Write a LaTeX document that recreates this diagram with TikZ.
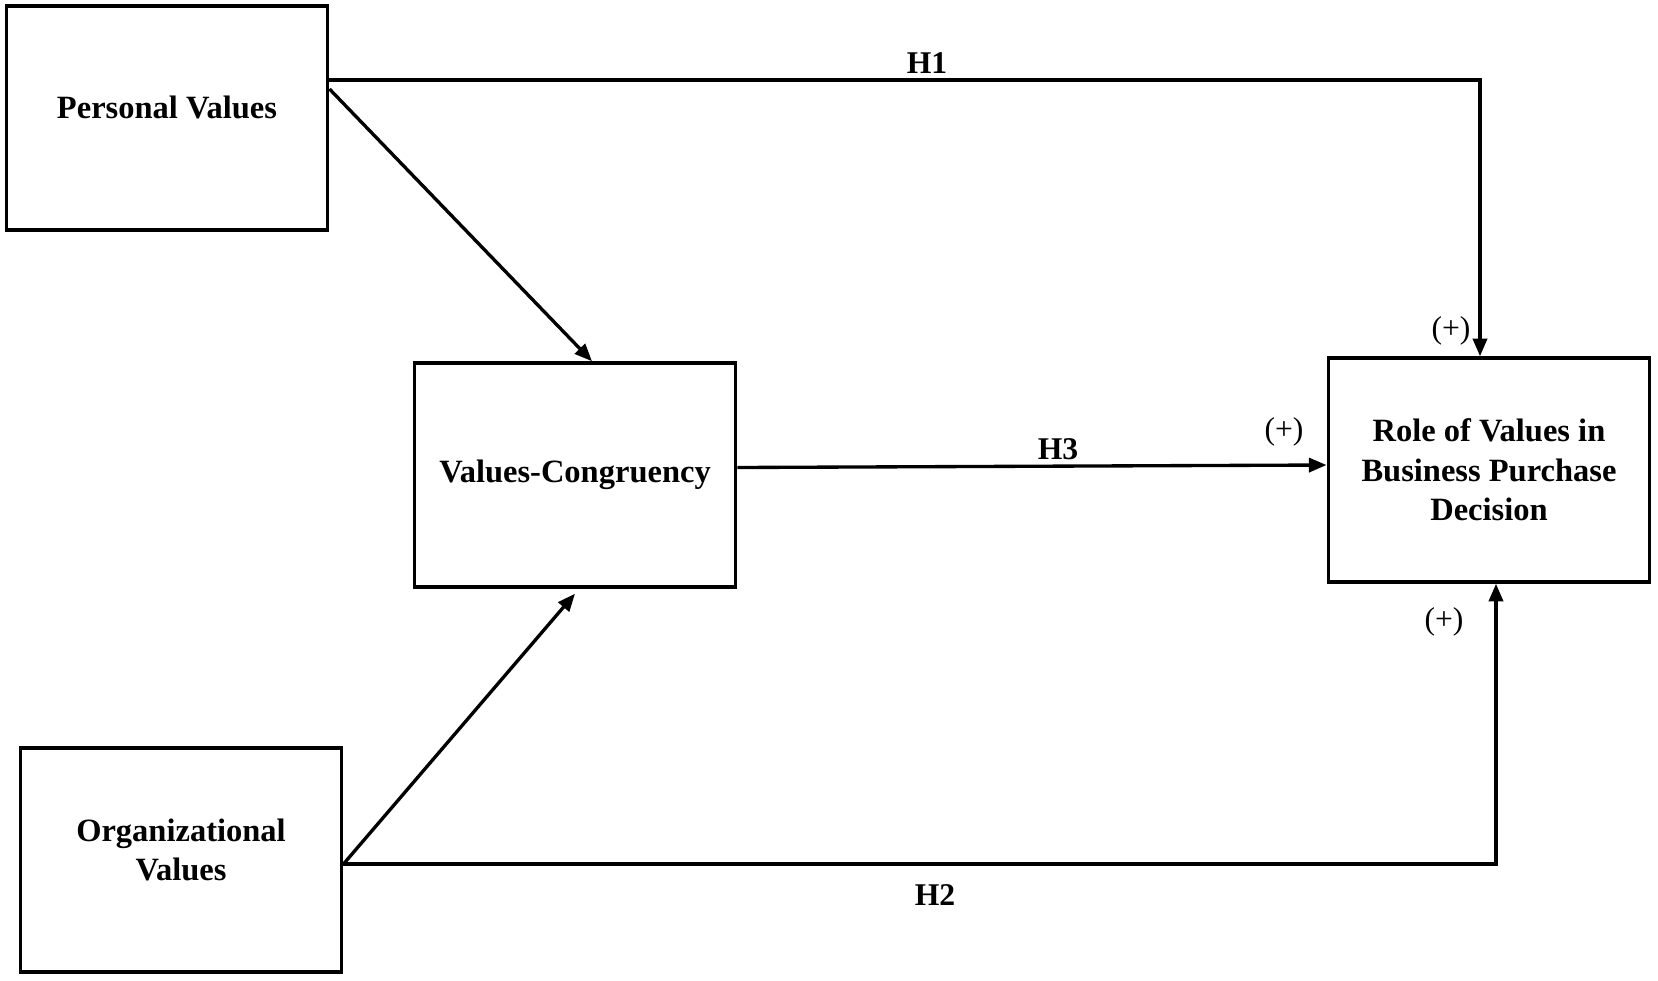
\documentclass[tikz,border=0pt]{standalone}
\usepackage{fontspec}
\setmainfont{Liberation Serif}
\usetikzlibrary{arrows.meta, positioning}

\begin{document}
\begin{tikzpicture}[
    x=0.02cm, y=-0.02cm,
    >={Triangle[length=10pt, width=8pt]},
    box/.style={draw, line width=2pt, minimum width=6.43cm, minimum height=4.48cm,
                inner sep=0pt, align=center, font=\fontsize{18.5}{22.5}\selectfont\bfseries},
    boxtext/.style={align=center, font=\fontsize{18.5}{22.5}\selectfont\bfseries},
    link/.style={line width=1.9pt},
    hyp/.style={font=\fontsize{18}{22}\selectfont\bfseries},
    sign/.style={font=\fontsize{18}{22}\selectfont}
  ]
  \useasboundingbox (0,0) rectangle (1658,981);

  % ---- Constructs ----
  \node[box, label={[boxtext, yshift=0.22cm]center:Personal Values}] (pv) at (167,118) {};
  \node[box] (vc)   at (575,475) {Values-Congruency};
  \node[box] (role) at (1489,470) {Role of Values in\\Business Purchase\\Decision};
  \node[box, label={[boxtext, yshift=0.2cm]center:Organizational\\Values}] (org) at (181,860) {};

  % ---- Paths ----
  \draw[link, ->] ([yshift=0.76cm]pv.east) -| ([xshift=-0.18cm]role.north);
  \draw[link, ->] ([yshift=0.58cm]pv.east) -- ([xshift=0.34cm]vc.north);
  \draw[link, ->] ([yshift=-0.08cm]org.east) -- ([yshift=-0.1cm]vc.south);
  \draw[link, ->] ([yshift=0.15cm]vc.east) -- ([yshift=0.1cm]role.west);
  \draw[link, ->] ([yshift=-0.08cm]org.east) -| ([xshift=0.14cm]role.south);

  % ---- Labels ----
  \node[hyp]  (h1) at (927,63)   {H1};
  \node[hyp]  (h3) at (1058,449) {H3};
  \node[hyp]  (h2) at (935,895)  {H2};
  \node[sign] (s1) at (1451,331) {(+)};
  \node[sign] (s3) at (1284,432) {(+)};
  \node[sign] (s2) at (1444,622) {(+)};
\end{tikzpicture}
\end{document}
